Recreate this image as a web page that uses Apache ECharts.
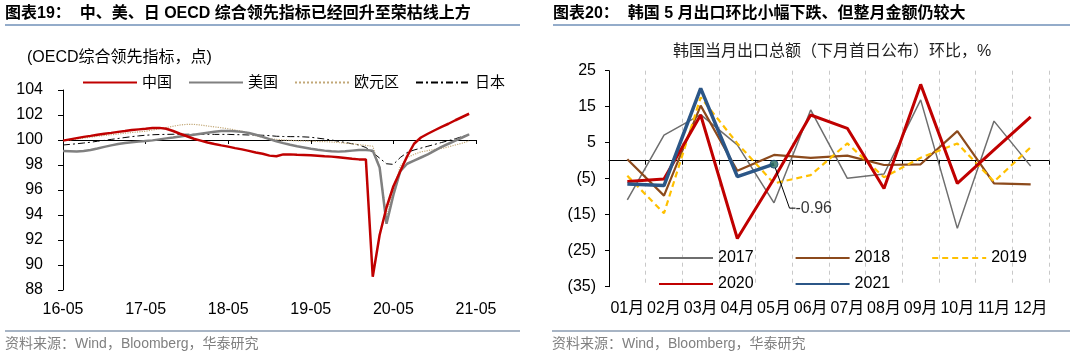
<!DOCTYPE html>
<html>
<head>
<meta charset="utf-8">
<script src="https://cdn.jsdelivr.net/npm/echarts@6/dist/echarts.min.js"></script>
<style>
html,body{margin:0;padding:0;background:#fff;}
#c{width:1080px;height:356px;}
</style>
</head>
<body>
<div id="c"></div>
<script>
// ---------- Left chart data: OECD CLI (monthly, 16-05 .. 21-05) ----------
const months = ['16-05','16-06','16-07','16-08','16-09','16-10','16-11','16-12',
  '17-01','17-02','17-03','17-04','17-05','17-06','17-07','17-08','17-09','17-10','17-11','17-12',
  '18-01','18-02','18-03','18-04','18-05','18-06','18-07','18-08','18-09','18-10','18-11','18-12',
  '19-01','19-02','19-03','19-04','19-05','19-06','19-07','19-08','19-09','19-10','19-11','19-12',
  '20-01','20-02','20-03','20-04','20-05','20-06','20-07','20-08','20-09','20-10','20-11','20-12',
  '21-01','21-02','21-03','21-04','21-05'];
const china = [99.95,100.05,100.15,100.25,100.33,100.42,100.5,100.57,100.65,100.72,
  100.8,100.85,100.9,100.96,100.97,100.9,100.72,100.5,100.3,100.1,
  99.95,99.8,99.68,99.57,99.47,99.35,99.25,99.13,99.0,98.9,
  98.75,98.7,98.85,98.85,98.82,98.8,98.78,98.74,98.7,98.67,
  98.62,98.56,98.5,98.45,98.45,89.06,92.4,94.6,96.3,97.5,
  98.7,99.7,100.2,100.5,100.78,101.05,101.3,101.58,101.84,102.1];
const usa = [99.12,99.1,99.08,99.12,99.2,99.32,99.45,99.57,99.68,99.76,
  99.82,99.87,99.92,99.97,100.05,100.13,100.2,100.28,100.35,100.42,
  100.5,100.58,100.66,100.72,100.73,100.7,100.65,100.56,100.42,100.25,
  100.07,99.9,99.75,99.62,99.5,99.4,99.3,99.22,99.15,99.1,
  99.07,99.1,99.15,99.2,99.2,99.15,97.8,93.3,95.6,97.5,
  98.1,98.35,98.6,98.85,99.15,99.45,99.7,99.95,100.2,100.45];
const euro = [99.95,100.0,100.08,100.15,100.22,100.3,100.36,100.42,100.48,100.54,
  100.6,100.65,100.7,100.8,100.9,101.0,101.1,101.2,101.25,101.25,
  101.2,101.12,101.05,100.98,100.9,100.8,100.7,100.55,100.35,100.2,
  100.1,100.05,100.0,99.97,99.94,99.92,99.9,99.88,99.87,99.84,
  99.8,99.75,99.7,99.63,99.57,99.5,97.8,93.8,96.0,97.9,
  98.6,98.85,99.05,99.15,99.25,99.32,99.45,99.6,99.75,99.92];
const japan = [99.6,99.65,99.7,99.76,99.82,99.9,99.97,100.05,100.12,100.2,
  100.27,100.33,100.38,100.42,100.44,100.45,100.46,100.46,100.46,100.46,
  100.46,100.46,100.45,100.45,100.45,100.43,100.42,100.4,100.4,100.38,
  100.35,100.3,100.28,100.27,100.27,100.25,100.22,100.15,100.08,100.0,
  99.9,99.8,99.7,99.6,99.4,99.0,98.55,98.1,98.05,98.6,
  99.0,99.2,99.35,99.5,99.65,99.8,99.95,100.1,100.28,100.45];
const leftNames = ['中国','美国','欧元区','日本'];

// ---------- Right chart data: Korea monthly export MoM, % ----------
const monthsKR = ['01月','02月','03月','04月','05月','06月','07月','08月','09月','10月','11月','12月'];
const y2017 = [-10.9, 7.1, 12.8, 4.4, -11.7, 14.1, -4.9, -3.7, 16.9, -18.8, 11.0, -1.5];
const y2018 = [0.4, -9.7, 15.3, -2.8, 1.6, 0.8, 1.4, -1.2, -1.0, 8.2, -6.3, -6.6];
const y2019 = [-4.2, -14.6, 17.6, 4.8, -6.3, -4.0, 4.8, -4.6, 0.8, 4.8, -5.8, 3.7];
const y2020 = [-5.8, -5.1, 12.7, -21.6, -5.0, 12.7, 9.0, -7.7, 21.2, -6.3, 3.0, 12.2];
const y2021 = [-6.5, -6.9, 20.1, -4.4, -0.96];
const rightYTicks = [-35, -25, -15, -5, 5, 15, 25];
const rightNamesRow1 = ['2017','2018','2019'];
const rightNamesRow2 = ['2020','2021'];

const FF = '"Liberation Sans", Arial, "Noto Sans CJK SC", sans-serif';
const chart = echarts.init(document.getElementById('c'), null, {renderer: 'canvas'});
const lastIdx = y2021.length - 1;
const hideSym = {opacity: 0};

const option = {
  backgroundColor: '#fff',
  animation: false,
  textStyle: {fontFamily: FF},
  grid: [
    {left: 63, top: 90, width: 413, height: 200},
    {left: 609, top: 70.7, width: 440, height: 216}
  ],
  legend: [
    {data: leftNames, left: 77, top: 70, itemWidth: 54, itemHeight: 14, itemGap: 16,
     itemStyle: hideSym, textStyle: {fontSize: 15, color: '#000', fontFamily: FF}},
    {data: rightNamesRow1, left: 653, top: 245, itemWidth: 54, itemHeight: 14, itemGap: 41,
     itemStyle: hideSym, textStyle: {fontSize: 16, color: '#000', fontFamily: FF}},
    {data: rightNamesRow2, left: 653, top: 271, itemWidth: 54, itemHeight: 14, itemGap: 41,
     itemStyle: hideSym, textStyle: {fontSize: 16, color: '#000', fontFamily: FF}}
  ],
  xAxis: [
    {type: 'category', gridIndex: 0, data: months, boundaryGap: false,
     axisLine: {show: false, onZero: false}, axisTick: {show: false},
     axisLabel: {interval: 11, fontSize: 16, color: '#000', margin: 12, fontFamily: FF},
     splitLine: {show: false}},
    {type: 'category', gridIndex: 0, data: months, boundaryGap: false, position: 'top', offset: -50,
     axisLine: {show: true, onZero: false, lineStyle: {color: '#000', width: 1}},
     axisTick: {show: true, interval: 11, inside: true, length: 4, lineStyle: {color: '#000'}},
     axisLabel: {show: false}, splitLine: {show: false}},
    {type: 'category', gridIndex: 1, data: monthsKR, boundaryGap: true,
     axisLine: {show: false, onZero: false}, axisTick: {show: false},
     axisLabel: {interval: 0, fontSize: 16, color: '#000', margin: 14, fontFamily: FF},
     splitLine: {show: true, interval: 0, lineStyle: {type: [4, 4], color: '#c8c8c8', width: 1}}},
    {type: 'category', gridIndex: 1, data: monthsKR, boundaryGap: true, position: 'top',
     axisLine: {show: true, onZero: true, lineStyle: {color: '#000', width: 1}},
     axisTick: {show: true, inside: true, length: 4, lineStyle: {color: '#000'}},
     axisLabel: {show: false}, splitLine: {show: false}}
  ],
  yAxis: [
    {type: 'value', gridIndex: 0, min: 88, max: 104, interval: 2,
     axisLine: {show: true, lineStyle: {color: '#000', width: 1}},
     axisTick: {show: true, length: 5, lineStyle: {color: '#000'}},
     axisLabel: {fontSize: 16, color: '#000', margin: 20, fontFamily: FF},
     splitLine: {show: false}},
    {type: 'value', gridIndex: 1, min: -35, max: 25, interval: 5,
     axisLine: {show: true, lineStyle: {color: '#000', width: 1}},
     axisTick: {show: true, length: 4, customValues: rightYTicks, lineStyle: {color: '#000'}},
     axisLabel: {customValues: rightYTicks, fontSize: 16, color: '#000', margin: 13, fontFamily: FF,
       formatter: v => v < 0 ? '(' + Math.abs(v) + ')' : String(v)},
     splitLine: {show: false}}
  ],
  series: [
    {name: '日本', type: 'line', xAxisIndex: 0, yAxisIndex: 0, data: japan, symbol: 'none',
     lineStyle: {color: '#000', width: 1, type: [7, 3, 2, 3]}, itemStyle: {color: '#000'}},
    {name: '欧元区', type: 'line', xAxisIndex: 0, yAxisIndex: 0, data: euro, symbol: 'none',
     lineStyle: {color: '#c2a878', width: 1.2, type: 'dotted'}, itemStyle: {color: '#c2a878'}},
    {name: '美国', type: 'line', xAxisIndex: 0, yAxisIndex: 0, data: usa, symbol: 'none',
     lineStyle: {color: '#808080', width: 2.5}, itemStyle: {color: '#808080'}},
    {name: '中国', type: 'line', xAxisIndex: 0, yAxisIndex: 0, data: china, symbol: 'none',
     lineStyle: {color: '#c00000', width: 2.5}, itemStyle: {color: '#c00000'}},

    {name: '2017', type: 'line', xAxisIndex: 2, yAxisIndex: 1, data: y2017, symbol: 'none',
     lineStyle: {color: '#6e6e6e', width: 1.5}, itemStyle: {color: '#6e6e6e'}},
    {name: '2018', type: 'line', xAxisIndex: 2, yAxisIndex: 1, data: y2018, symbol: 'none',
     lineStyle: {color: '#8c4a1c', width: 2.2}, itemStyle: {color: '#8c4a1c'}},
    {name: '2019', type: 'line', xAxisIndex: 2, yAxisIndex: 1, data: y2019, symbol: 'none',
     lineStyle: {color: '#ffc000', width: 2.2, type: [6, 4]}, itemStyle: {color: '#ffc000'}},
    {name: '2020', type: 'line', xAxisIndex: 2, yAxisIndex: 1, data: y2020, symbol: 'none',
     lineStyle: {color: '#c00000', width: 3}, itemStyle: {color: '#c00000'}},
    {name: '2021', type: 'line', xAxisIndex: 2, yAxisIndex: 1, data: y2021, symbol: 'none',
     lineStyle: {color: '#2b5687', width: 3.5}, itemStyle: {color: '#2b5687'}},
    {name: '2021点', type: 'scatter', xAxisIndex: 2, yAxisIndex: 1,
     data: [[lastIdx, y2021[lastIdx]]], symbolSize: 8, z: 5,
     itemStyle: {color: '#2a6b5c', borderColor: '#1f4e79', borderWidth: 1},
     label: {show: true, position: 'right', fontSize: 16, color: '#000', fontFamily: FF,
       formatter: p => p.value[1].toFixed(2)},
     labelLayout: {dx: 12, dy: 44},
     labelLine: {show: true, length2: 6, lineStyle: {color: '#000', width: 1}}}
  ],
  graphic: [
    {type: 'text', x: 5, y: 14, style: {text: '图表19：  中、美、日 OECD 综合领先指标已经回升至荣枯线上方',
      font: 'bold 16px ' + FF, fill: '#000', verticalAlign: 'middle'}},
    {type: 'line', shape: {x1: 5, y1: 25, x2: 520, y2: 25}, style: {stroke: '#7090b8', lineWidth: 1.5}},
    {type: 'text', x: 553, y: 14, style: {text: '图表20：  韩国 5 月出口环比小幅下跌、但整月金额仍较大',
      font: 'bold 16px ' + FF, fill: '#000', verticalAlign: 'middle'}},
    {type: 'line', shape: {x1: 553, y1: 25, x2: 1070, y2: 25}, style: {stroke: '#7090b8', lineWidth: 1.5}},
    {type: 'text', x: 27, y: 58, style: {text: '(OECD综合领先指标，点)',
      font: '16px ' + FF, fill: '#000', verticalAlign: 'middle'}},
    {type: 'text', x: 832, y: 52, style: {text: '韩国当月出口总额（下月首日公布）环比，%',
      font: '16px ' + FF, fill: '#222', align: 'center', verticalAlign: 'middle'}},
    {type: 'line', shape: {x1: 5, y1: 331, x2: 520, y2: 331}, style: {stroke: '#8a9bb0', lineWidth: 1.5}},
    {type: 'line', shape: {x1: 552, y1: 331, x2: 1070, y2: 331}, style: {stroke: '#8a9bb0', lineWidth: 1.5}},
    {type: 'text', x: 5, y: 344, style: {text: '资料来源：Wind，Bloomberg，华泰研究',
      font: '14px ' + FF, fill: '#808080', verticalAlign: 'middle'}},
    {type: 'text', x: 552, y: 344, style: {text: '资料来源：Wind，Bloomberg，华泰研究',
      font: '14px ' + FF, fill: '#808080', verticalAlign: 'middle'}}
  ]
};
chart.setOption(option);
</script>
</body>
</html>
